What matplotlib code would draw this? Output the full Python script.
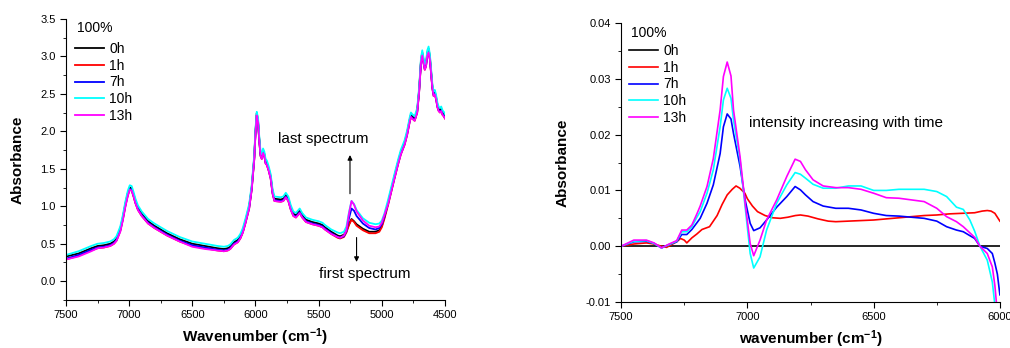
import matplotlib
matplotlib.use("Agg")
import matplotlib.pyplot as plt
from matplotlib.ticker import MultipleLocator, FormatStrFormatter

plt.rcParams['font.family'] = ['Liberation Sans', 'DejaVu Sans']
plt.rcParams['mathtext.default'] = 'regular'

# Linke Grafik: Spektren
wn_left = [7500, 7400, 7300, 7250, 7200, 7150, 7120, 7100, 7070, 7050,
           7030, 7010, 6995, 6980, 6965, 6950, 6930, 6900, 6850, 6800,
           6700, 6600, 6500, 6400, 6300, 6250, 6220, 6200, 6170, 6140,
           6120, 6100, 6080, 6050, 6030, 6010, 6000, 5990, 5980, 5970,
           5960, 5950, 5940, 5930, 5920, 5910, 5895, 5880, 5865, 5850,
           5800, 5780, 5760, 5740, 5720, 5700, 5680, 5660, 5650, 5630,
           5600, 5550, 5500, 5470, 5450, 5400, 5350, 5330, 5300, 5280,
           5260, 5240, 5220, 5200, 5150, 5100, 5050, 5020, 5000, 4980,
           4950, 4900, 4870, 4850, 4820, 4800, 4780, 4770, 4760, 4740,
           4720, 4705, 4690, 4680, 4670, 4660, 4650, 4640, 4630, 4620,
           4610, 4600, 4590, 4580, 4570, 4560, 4550, 4540, 4530, 4520,
           4510, 4500]

abs_0h = [0.33, 0.37, 0.44, 0.47, 0.48, 0.50, 0.53, 0.57, 0.70, 0.85,
          1.03, 1.18, 1.25, 1.24, 1.16, 1.07, 0.98, 0.90, 0.80, 0.74,
          0.64, 0.56, 0.50, 0.47, 0.44, 0.43, 0.44, 0.46, 0.52, 0.55,
          0.60, 0.68, 0.80, 1.00, 1.25, 1.65, 2.00, 2.24, 2.15, 1.90,
          1.70, 1.66, 1.74, 1.70, 1.60, 1.58, 1.50, 1.40, 1.20, 1.10,
          1.09, 1.10, 1.15, 1.10, 0.98, 0.90, 0.88, 0.92, 0.94, 0.88,
          0.82, 0.79, 0.77, 0.75, 0.72, 0.66, 0.61, 0.60, 0.62, 0.67,
          0.76, 0.83, 0.80, 0.76, 0.70, 0.66, 0.66, 0.68, 0.74, 0.85,
          1.05, 1.40, 1.60, 1.72, 1.85, 1.98, 2.15, 2.22, 2.20, 2.17,
          2.28, 2.55, 2.95, 3.05, 2.95, 2.86, 2.90, 3.05, 3.10, 3.00,
          2.80, 2.60, 2.50, 2.52, 2.45, 2.35, 2.30, 2.28, 2.30, 2.25,
          2.23, 2.20]

abs_1h = [0.29, 0.34, 0.41, 0.44, 0.45, 0.47, 0.50, 0.54, 0.67, 0.82,
          1.00, 1.15, 1.22, 1.21, 1.13, 1.04, 0.95, 0.87, 0.77, 0.71,
          0.61, 0.53, 0.47, 0.44, 0.41, 0.40, 0.41, 0.43, 0.49, 0.52,
          0.57, 0.65, 0.77, 0.97, 1.22, 1.62, 1.97, 2.21, 2.12, 1.87,
          1.67, 1.63, 1.71, 1.67, 1.57, 1.55, 1.47, 1.37, 1.17, 1.07,
          1.06, 1.07, 1.12, 1.07, 0.95, 0.87, 0.85, 0.89, 0.91, 0.85,
          0.79, 0.76, 0.74, 0.72, 0.69, 0.63, 0.58, 0.57, 0.59, 0.65,
          0.75, 0.82, 0.79, 0.74, 0.68, 0.64, 0.64, 0.66, 0.72, 0.83,
          1.02, 1.37, 1.57, 1.69, 1.82, 1.95, 2.12, 2.19, 2.17, 2.14,
          2.25, 2.52, 2.92, 3.01, 2.91, 2.82, 2.87, 3.01, 3.05, 2.96,
          2.77, 2.57, 2.47, 2.49, 2.42, 2.32, 2.27, 2.25, 2.27, 2.22,
          2.20, 2.17]

abs_7h = [0.30, 0.35, 0.42, 0.45, 0.46, 0.48, 0.51, 0.55, 0.68, 0.83,
          1.01, 1.16, 1.23, 1.22, 1.14, 1.05, 0.96, 0.88, 0.78, 0.72,
          0.62, 0.54, 0.48, 0.45, 0.42, 0.41, 0.42, 0.44, 0.50, 0.53,
          0.58, 0.66, 0.78, 0.98, 1.23, 1.63, 1.98, 2.22, 2.13, 1.88,
          1.68, 1.64, 1.72, 1.68, 1.58, 1.56, 1.48, 1.38, 1.18, 1.08,
          1.07, 1.08, 1.13, 1.08, 0.96, 0.88, 0.86, 0.90, 0.92, 0.86,
          0.80, 0.77, 0.75, 0.73, 0.70, 0.64, 0.59, 0.58, 0.60, 0.67,
          0.84, 0.97, 0.94, 0.87, 0.77, 0.71, 0.69, 0.71, 0.76, 0.86,
          1.04, 1.38, 1.58, 1.70, 1.83, 1.96, 2.13, 2.20, 2.18, 2.15,
          2.26, 2.53, 2.93, 3.02, 2.92, 2.83, 2.88, 3.02, 3.07, 2.97,
          2.78, 2.58, 2.48, 2.50, 2.43, 2.33, 2.28, 2.26, 2.28, 2.23,
          2.21, 2.18]

abs_10h = [0.35, 0.40, 0.47, 0.50, 0.51, 0.53, 0.56, 0.60, 0.73, 0.88,
           1.06, 1.21, 1.28, 1.27, 1.19, 1.10, 1.01, 0.93, 0.83, 0.77,
           0.67, 0.59, 0.53, 0.50, 0.47, 0.46, 0.47, 0.49, 0.55, 0.58,
           0.63, 0.71, 0.83, 1.03, 1.28, 1.68, 2.03, 2.26, 2.18, 1.93,
           1.73, 1.69, 1.77, 1.73, 1.63, 1.61, 1.53, 1.43, 1.23, 1.13,
           1.12, 1.13, 1.18, 1.13, 1.01, 0.93, 0.91, 0.95, 0.97, 0.91,
           0.85, 0.82, 0.80, 0.78, 0.75, 0.69, 0.65, 0.64, 0.66, 0.73,
           0.92, 1.07, 1.03, 0.95, 0.84, 0.78, 0.76, 0.77, 0.81, 0.90,
           1.09, 1.43, 1.63, 1.75, 1.88, 2.01, 2.18, 2.25, 2.23, 2.20,
           2.31, 2.58, 2.98, 3.08, 2.98, 2.89, 2.93, 3.08, 3.13, 3.03,
           2.83, 2.63, 2.53, 2.55, 2.48, 2.38, 2.33, 2.31, 2.33, 2.28,
           2.26, 2.23]

abs_13h = [0.29, 0.33, 0.40, 0.44, 0.45, 0.47, 0.50, 0.54, 0.66, 0.81,
           0.99, 1.14, 1.22, 1.21, 1.13, 1.04, 0.95, 0.87, 0.77, 0.71,
           0.61, 0.53, 0.46, 0.43, 0.41, 0.40, 0.41, 0.43, 0.49, 0.52,
           0.57, 0.65, 0.77, 0.97, 1.22, 1.62, 1.97, 2.21, 2.12, 1.87,
           1.67, 1.63, 1.71, 1.67, 1.57, 1.55, 1.47, 1.37, 1.17, 1.07,
           1.06, 1.07, 1.12, 1.07, 0.95, 0.87, 0.85, 0.89, 0.91, 0.85,
           0.79, 0.76, 0.74, 0.72, 0.69, 0.63, 0.59, 0.58, 0.61, 0.68,
           0.90, 1.07, 1.02, 0.93, 0.81, 0.74, 0.72, 0.73, 0.78, 0.88,
           1.03, 1.37, 1.57, 1.69, 1.82, 1.95, 2.12, 2.19, 2.17, 2.14,
           2.25, 2.52, 2.92, 3.01, 2.91, 2.82, 2.87, 3.01, 3.05, 2.96,
           2.77, 2.57, 2.47, 2.49, 2.42, 2.32, 2.27, 2.25, 2.27, 2.22,
           2.20, 2.17]

# Rechte Grafik: Differenzspektren
wn_0h_diff = [7500, 6000]
diff_0h = [0.0, 0.0]

wn_1h_diff = [7500, 7450, 7400, 7370, 7340, 7320, 7300, 7280, 7265, 7250,
              7240, 7220, 7200, 7180, 7150, 7120, 7100, 7080, 7060, 7045,
              7030, 7010, 7000, 6980, 6960, 6930, 6900, 6870, 6840, 6810,
              6790, 6760, 6720, 6680, 6650, 6600, 6550, 6500, 6450, 6400,
              6350, 6300, 6250, 6200, 6150, 6100, 6070, 6050, 6035, 6020,
              6010, 6000]
diff_1h = [0.0, 0.0004, 0.0006, 0.0004, 0.0, -0.0002, 0.0003, 0.0008, 0.0014, 0.0011,
           0.0006, 0.0015, 0.0022, 0.0030, 0.0035, 0.0055, 0.0075, 0.0092, 0.0102, 0.0108,
           0.0104, 0.0095, 0.0085, 0.0072, 0.0062, 0.0055, 0.0051, 0.0050, 0.0052, 0.0055,
           0.0056, 0.0054, 0.0049, 0.0045, 0.0044, 0.0045, 0.0046, 0.0047, 0.0049, 0.0051,
           0.0053, 0.0055, 0.0056, 0.0058, 0.0059, 0.0060, 0.0063, 0.0064, 0.0063, 0.0059,
           0.0052, 0.0045]

wn_diff = [7500, 7450, 7400, 7370, 7340, 7310, 7280, 7260, 7240, 7220,
           7200, 7187, 7160, 7135, 7108, 7095, 7080, 7065, 7055, 7029,
           7009, 6989, 6975, 6950, 6924, 6884, 6844, 6811, 6790, 6770,
           6740, 6700, 6650, 6600, 6550, 6500, 6450, 6400, 6300, 6250,
           6211, 6172, 6145, 6119, 6100, 6079, 6050, 6030, 6020, 6010,
           6000]
diff_7h = [0.0, 0.0008, 0.0009, 0.0005, -0.0003, 0.0003, 0.0008, 0.0021, 0.0021, 0.0030,
           0.0042, 0.0050, 0.0077, 0.0110, 0.0166, 0.0214, 0.0237, 0.0228, 0.0202, 0.0143,
           0.0083, 0.0041, 0.0028, 0.0033, 0.0047, 0.0070, 0.0089, 0.0107, 0.0101, 0.0092,
           0.0080, 0.0072, 0.0068, 0.0068, 0.0065, 0.0059, 0.0055, 0.0054, 0.0050, 0.0045,
           0.0035, 0.0029, 0.0026, 0.0019, 0.0014, 0.0, -0.0004, -0.0013, -0.0030, -0.0050,
           -0.0087]
diff_10h = [0.0, 0.0009, 0.0010, 0.0005, -0.0003, 0.0003, 0.0009, 0.0026, 0.0026, 0.0035,
            0.0052, 0.0062, 0.0095, 0.0137, 0.0214, 0.0262, 0.0283, 0.0265, 0.0226, 0.0154,
            0.0071, -0.0013, -0.0039, -0.0019, 0.0029, 0.0077, 0.0110, 0.0132, 0.0129, 0.0122,
            0.0111, 0.0104, 0.0104, 0.0108, 0.0108, 0.0100, 0.0100, 0.0102, 0.0102, 0.0098,
            0.0089, 0.0070, 0.0066, 0.0047, 0.0027, 0.0, -0.0025, -0.0064, -0.0105, -0.0140,
            -0.0160]
diff_13h = [0.0, 0.0011, 0.0011, 0.0006, -0.0003, 0.0004, 0.0010, 0.0029, 0.0029, 0.0038,
            0.0058, 0.0072, 0.0107, 0.0157, 0.0244, 0.0304, 0.0330, 0.0305, 0.0244, 0.0160,
            0.0077, 0.0005, -0.0017, 0.0011, 0.0047, 0.0083, 0.0125, 0.0156, 0.0152, 0.0137,
            0.0119, 0.0108, 0.0105, 0.0105, 0.0102, 0.0095, 0.0087, 0.0086, 0.0080, 0.0068,
            0.0053, 0.0044, 0.0035, 0.0024, 0.0016, 0.0, -0.0013, -0.0037, -0.0070, -0.0120,
            -0.0160]

labels = ['0h', '1h', '7h', '10h', '13h']
colors = ['black', '#ff0000', '#0000ff', '#00ffff', '#ff00ff']

fig = plt.figure(figsize=(10.1, 3.48), dpi=100)
ax1 = fig.add_axes([0.0653, 0.138, 0.3753, 0.808])
ax2 = fig.add_axes([0.615, 0.132, 0.375, 0.802])

left_series = [abs_0h, abs_1h, abs_7h, abs_10h, abs_13h]
for y, c, lab in zip(left_series, colors, labels):
    ax1.plot(wn_left, y, color=c, lw=1.3, label=lab)

right_x = [wn_0h_diff, wn_1h_diff, wn_diff, wn_diff, wn_diff]
right_y = [diff_0h, diff_1h, diff_7h, diff_10h, diff_13h]
for x, y, c, lab in zip(right_x, right_y, colors, labels):
    ax2.plot(x, y, color=c, lw=1.2, label=lab)

# Achsen und Legende (Titel "100%" als eigener Text)
legend_pos = {ax1: (0.03, 0.967, 0.024, 0.918), ax2: (0.027, 0.964, 0.021, 0.925)}
for ax in (ax1, ax2):
    ax.spines['top'].set_visible(False)
    ax.spines['right'].set_visible(False)
    ax.tick_params(which='both', direction='out', labelsize=8, colors='black')
    ax.tick_params(which='major', length=4)
    ax.tick_params(which='minor', length=2.5)
    ax.xaxis.set_major_locator(MultipleLocator(500))
    ax.xaxis.set_minor_locator(MultipleLocator(250))
    ax.set_ylabel('Absorbance', fontsize=11, fontweight='bold')
    tx, ty, lx, ly = legend_pos[ax]
    ax.text(tx, ty, '100%', transform=ax.transAxes, fontsize=10, ha='left', va='center')
    ax.legend(loc='upper left', bbox_to_anchor=(lx, ly), frameon=False, fontsize=10,
              handlelength=2.1, labelspacing=0.2, handletextpad=0.35,
              borderaxespad=0.0, borderpad=0.0)

ax1.set_xlim(7500, 4500)
ax1.set_ylim(-0.25, 3.5)
ax1.yaxis.set_major_locator(MultipleLocator(0.5))
ax1.yaxis.set_minor_locator(MultipleLocator(0.25))
ax1.yaxis.set_major_formatter(FormatStrFormatter('%.1f'))
ax1.set_xlabel(r'Wavenumber (cm$^{-1}$)', fontsize=11, fontweight='bold')
ax1.yaxis.set_label_coords(-0.11, 0.5)

ax2.set_xlim(7500, 6000)
ax2.set_ylim(-0.01, 0.04)
ax2.yaxis.set_major_locator(MultipleLocator(0.01))
ax2.yaxis.set_minor_locator(MultipleLocator(0.005))
ax2.yaxis.set_major_formatter(FormatStrFormatter('%.2f'))
ax2.set_xlabel(r'wavenumber (cm$^{-1}$)', fontsize=11, fontweight='bold')
ax2.yaxis.set_label_coords(-0.135, 0.5)

# Beschriftungen
ax1.text(5825, 1.9, 'last spectrum', fontsize=11, ha='left', va='center')
ax1.text(5500, 0.09, 'first spectrum', fontsize=11, ha='left', va='center')
ax1.annotate('', xy=(5252, 1.72), xytext=(5252, 1.13),
             arrowprops=dict(arrowstyle='-|>', color='black', lw=0.8, mutation_scale=7))
ax1.annotate('', xy=(5200, 0.22), xytext=(5200, 0.62),
             arrowprops=dict(arrowstyle='-|>', color='black', lw=0.8, mutation_scale=7))

ax2.text(6992, 0.022, 'intensity increasing with time', fontsize=11, ha='left', va='center')

fig.savefig('out.png', dpi=100)
